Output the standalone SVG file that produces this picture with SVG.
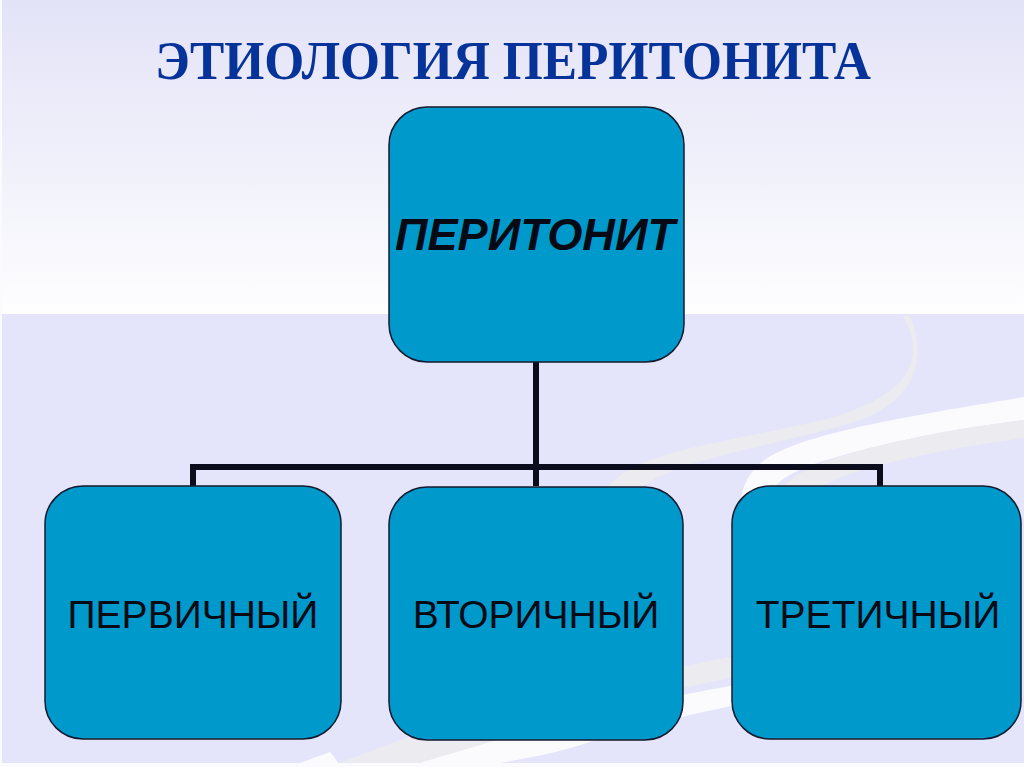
<svg xmlns="http://www.w3.org/2000/svg" width="1024" height="767" viewBox="0 0 1024 767">
  <defs>
    <linearGradient id="topGrad" x1="0" y1="0" x2="0" y2="1">
      <stop offset="0" stop-color="#e3e3f8"/>
      <stop offset="0.55" stop-color="#f1f1fb"/>
      <stop offset="1" stop-color="#fefeff"/>
    </linearGradient>
    <style>
      .node { fill: #0099cc; stroke: #141a2e; stroke-width: 1.5; }
      .lbl { font-family: "Liberation Sans", Arial, sans-serif; font-size: 39px; fill: #050a14; text-anchor: middle; }
      .conn { fill: none; stroke: #0b0d1c; stroke-width: 6; stroke-linejoin: miter; }
      .gray { fill: #ebebf0; }
      .white { fill: #fbfbfe; }
    </style>
  </defs>

  <!-- background -->
  <g id="background">
    <rect x="0" y="0" width="1024" height="767" fill="#fafaff"/>
    <rect x="2" y="0" width="1022" height="314" fill="url(#topGrad)"/>
    <rect x="2" y="314" width="1022" height="449" fill="#e4e4fb"/>
    <!-- swooshes -->
    <path class="gray" d="M 903 316 C 928 360 908 398 822 420 C 720 444 630 452 606 490 C 596 508 592 525 592 545 L 614 545 C 614 515 625 490 670 472 C 720 452 800 440 860 420 C 915 400 928 360 910 316 Z"/>
    <path class="white" d="M 1024 397 C 920 415 800 432 762 462 C 742 478 738 500 740 525 L 762 525 C 760 500 770 478 820 462 C 890 440 960 428 1024 420 Z"/>
    <path class="gray" d="M 1024 420 C 960 428 890 440 830 460 C 790 474 770 492 768 525 L 790 525 C 795 500 820 482 870 468 C 920 454 980 444 1024 438 Z"/>
    <path class="gray" d="M 340 763 C 420 730 520 700 600 683 C 680 666 720 660 760 650 L 760 672 C 700 684 620 700 560 720 C 500 740 460 752 420 763 Z"/>
    <path class="white" d="M 420 763 C 470 748 520 733 580 718 C 650 700 710 690 760 680 L 760 700 C 700 712 640 726 590 742 C 560 752 530 758 500 763 Z"/>
    <path class="white" d="M 330 752 C 334 756 336 760 338 763 L 300 763 Z"/>
  </g>

  <!-- title -->
  <g id="title">
    <text x="513" y="79" font-family="'Liberation Serif', 'Times New Roman', serif" font-weight="bold" font-size="54" fill="#063399" text-anchor="middle" textLength="716" lengthAdjust="spacingAndGlyphs">ЭТИОЛОГИЯ ПЕРИТОНИТА</text>
  </g>

  <!-- connectors -->
  <g id="connectors">
    <path class="conn" d="M 536 362 L 536 467"/>
    <path class="conn" d="M 193 486 L 193 467 L 880 467 L 880 486"/>
    <path class="conn" d="M 536 467 L 536 486"/>
  </g>

  <!-- nodes -->
  <g id="node-peritonit">
    <rect class="node" x="389" y="107" width="295" height="255" rx="38" ry="38"/>
    <text x="535" y="250" font-family="'Liberation Sans', Arial, sans-serif" font-weight="bold" font-style="italic" font-size="44" fill="#050a14" text-anchor="middle" textLength="280" lengthAdjust="spacingAndGlyphs">ПЕРИТОНИТ</text>
  </g>
  <g id="node-primary">
    <rect class="node" x="45" y="486" width="296" height="253" rx="38" ry="38"/>
    <text class="lbl" x="193" y="628">ПЕРВИЧНЫЙ</text>
  </g>
  <g id="node-secondary">
    <rect class="node" x="389" y="487" width="294" height="253" rx="38" ry="38"/>
    <text class="lbl" x="536" y="628">ВТОРИЧНЫЙ</text>
  </g>
  <g id="node-tertiary">
    <rect class="node" x="732" y="486" width="289" height="253" rx="38" ry="38"/>
    <text class="lbl" x="878" y="628">ТРЕТИЧНЫЙ</text>
  </g>
</svg>
